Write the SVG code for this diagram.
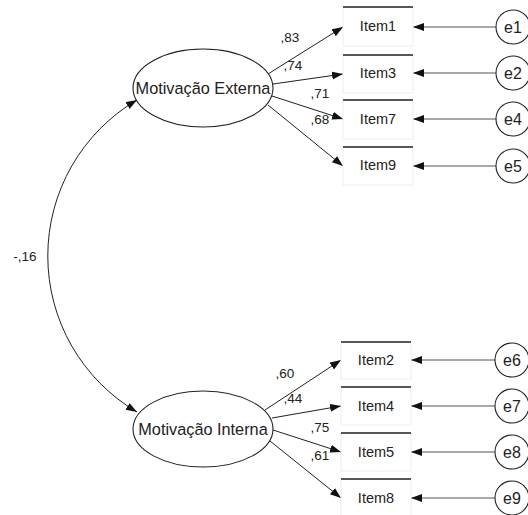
<svg xmlns="http://www.w3.org/2000/svg" width="528" height="515" viewBox="0 0 528 515">
<defs>
<marker id="ah" markerUnits="userSpaceOnUse" markerWidth="12" markerHeight="10" refX="11" refY="4" orient="auto-start-reverse">
<path d="M0,0 L11,4 L0,8 Z" fill="#111"/>
</marker>
<style>
text{font-family:"Liberation Sans",Arial,sans-serif;fill:#222;}
.lat{font-size:16.3px;text-anchor:middle;}
.it{font-size:14.5px;text-anchor:middle;}
.er{font-size:16px;text-anchor:middle;}
.lb{font-size:13.5px;text-anchor:middle;}
.box{fill:#fff;stroke:#eee;stroke-width:1;}
.top{stroke:#222;stroke-width:1.3;}
.ell{fill:#fff;stroke:#222;stroke-width:1.1;}
.con{fill:none;stroke:#222;stroke-width:1;marker-end:url(#ah);}
.err{fill:none;stroke:#555;stroke-width:1.1;marker-end:url(#ah);}
</style>
</defs>
<rect width="528" height="515" fill="#fff"/>
<g id="connectors">
<path class="con" d="M137,100 A181,181 0 0,0 137,412" style="marker-start:url(#ah)"/>
<line class="con" x1="268" y1="74" x2="343" y2="27"/>
<line class="con" x1="273" y1="84" x2="343" y2="74"/>
<line class="con" x1="272" y1="96" x2="343" y2="119"/>
<line class="con" x1="268" y1="105" x2="343" y2="166"/>
<line class="con" x1="265" y1="410" x2="341" y2="360"/>
<line class="con" x1="272" y1="418" x2="341" y2="406"/>
<line class="con" x1="273" y1="430" x2="341" y2="452"/>
<line class="con" x1="270" y1="441" x2="341" y2="498"/>
<line class="err" x1="496" y1="27" x2="413" y2="27"/>
<line class="err" x1="496" y1="73" x2="413" y2="73"/>
<line class="err" x1="496" y1="119" x2="413" y2="119"/>
<line class="err" x1="496" y1="166" x2="413" y2="166"/>
<line class="err" x1="495" y1="360" x2="411" y2="360"/>
<line class="err" x1="495" y1="406" x2="411" y2="406"/>
<line class="err" x1="495" y1="452" x2="411" y2="452"/>
<line class="err" x1="495" y1="498" x2="411" y2="498"/>
<text class="lb" x="290" y="42">,83</text>
<text class="lb" x="293" y="70">,74</text>
<text class="lb" x="320" y="98">,71</text>
<text class="lb" x="320" y="124">,68</text>
<text class="lb" x="285" y="378">,60</text>
<text class="lb" x="293" y="403">,44</text>
<text class="lb" x="320" y="432">,75</text>
<text class="lb" x="320" y="460">,61</text>
<text class="lb" x="25" y="261">-,16</text>
</g>
<g id="motivacao-externa"><ellipse class="ell" cx="203" cy="88" rx="70" ry="39"/><text class="lat" x="203" y="94">Motivação Externa</text></g>
<g id="motivacao-interna"><ellipse class="ell" cx="203" cy="429" rx="70" ry="38"/><text class="lat" x="203" y="435">Motivação Interna</text></g>
<g id="item1"><rect class="box" x="343" y="7" width="70" height="39"/><line class="top" x1="343" y1="7" x2="413" y2="7"/><text class="it" x="378" y="31">Item1</text></g>
<g id="item3"><rect class="box" x="343" y="55" width="70" height="38"/><line class="top" x1="343" y1="55" x2="413" y2="55"/><text class="it" x="378" y="78">Item3</text></g>
<g id="item7"><rect class="box" x="343" y="100" width="70" height="39"/><line class="top" x1="343" y1="100" x2="413" y2="100"/><text class="it" x="378" y="124">Item7</text></g>
<g id="item9"><rect class="box" x="343" y="147" width="70" height="38"/><line class="top" x1="343" y1="147" x2="413" y2="147"/><text class="it" x="378" y="170">Item9</text></g>
<g id="item2"><rect class="box" x="341" y="342" width="70" height="37"/><line class="top" x1="341" y1="342" x2="411" y2="342"/><text class="it" x="376" y="365">Item2</text></g>
<g id="item4"><rect class="box" x="341" y="387" width="70" height="38"/><line class="top" x1="341" y1="387" x2="411" y2="387"/><text class="it" x="376" y="411">Item4</text></g>
<g id="item5"><rect class="box" x="341" y="433" width="70" height="38"/><line class="top" x1="341" y1="433" x2="411" y2="433"/><text class="it" x="376" y="457">Item5</text></g>
<g id="item8"><rect class="box" x="341" y="479" width="70" height="38"/><line class="top" x1="341" y1="479" x2="411" y2="479"/><text class="it" x="376" y="503">Item8</text></g>
<g id="e1"><circle class="ell" cx="513" cy="27" r="17"/><text class="er" x="513" y="33">e1</text></g>
<g id="e2"><circle class="ell" cx="513" cy="73" r="17"/><text class="er" x="513" y="79">e2</text></g>
<g id="e4"><circle class="ell" cx="513" cy="119" r="17"/><text class="er" x="513" y="125">e4</text></g>
<g id="e5"><circle class="ell" cx="513" cy="166" r="17"/><text class="er" x="513" y="172">e5</text></g>
<g id="e6"><circle class="ell" cx="512" cy="360" r="17"/><text class="er" x="512" y="366">e6</text></g>
<g id="e7"><circle class="ell" cx="512" cy="406" r="17"/><text class="er" x="512" y="412">e7</text></g>
<g id="e8"><circle class="ell" cx="512" cy="452" r="17"/><text class="er" x="512" y="458">e8</text></g>
<g id="e9"><circle class="ell" cx="512" cy="498" r="17"/><text class="er" x="512" y="504">e9</text></g>
</svg>
